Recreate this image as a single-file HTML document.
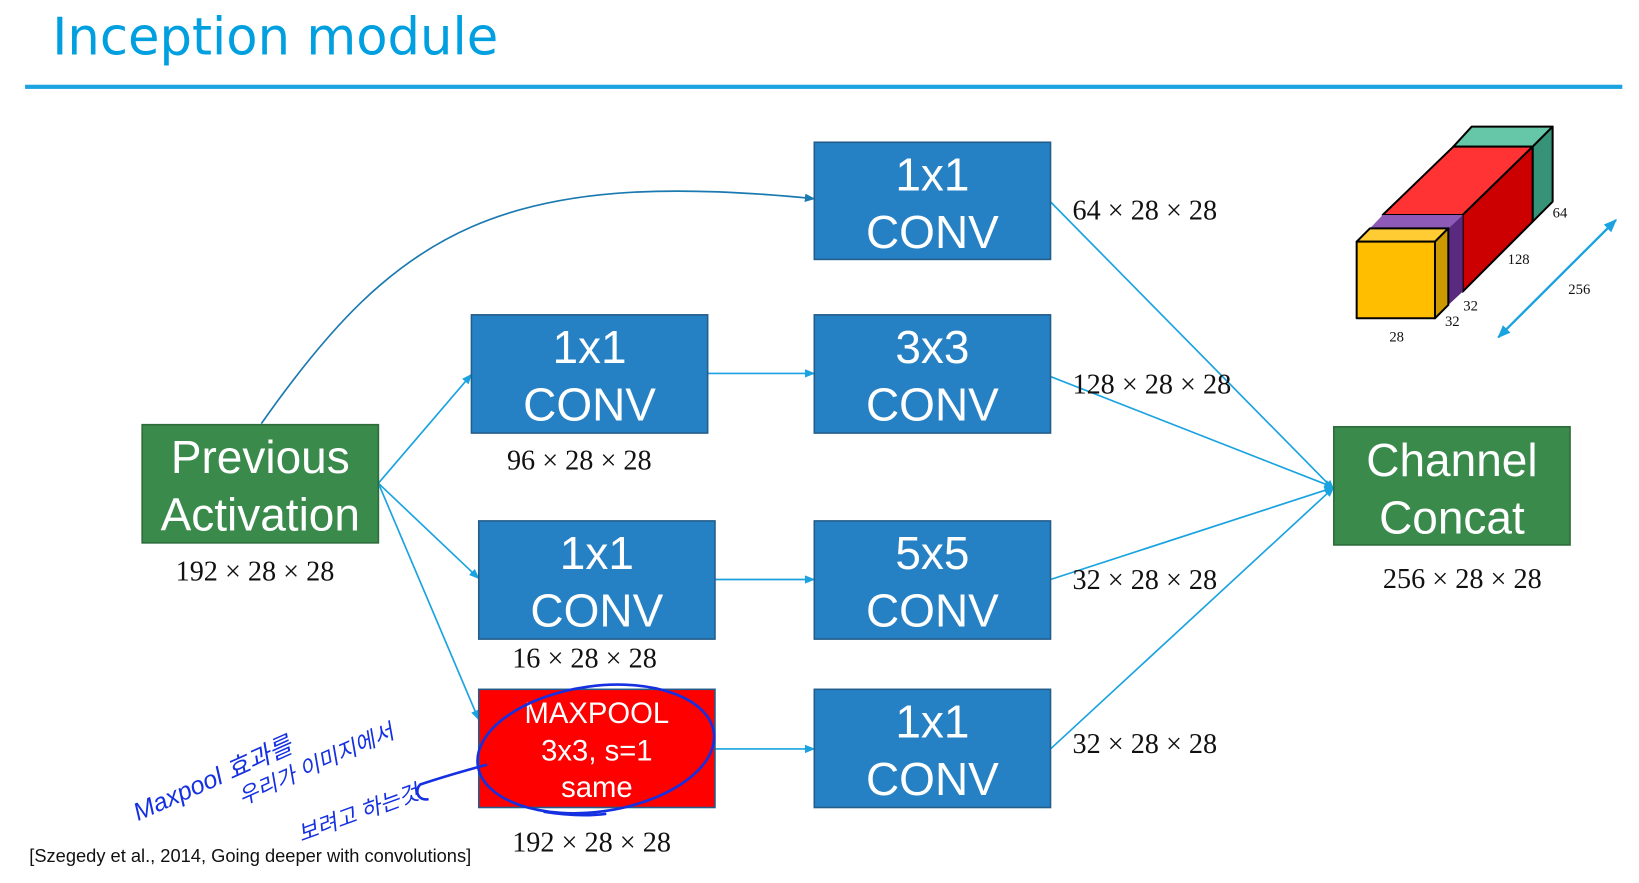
<!DOCTYPE html>
<html><head><meta charset="utf-8"><style>
html,body{margin:0;padding:0;background:#fff;}
svg{display:block;}
.bx{font-family:"Liberation Sans",sans-serif;fill:#fff;font-size:44px;text-anchor:middle;}
.lb{font-family:"Liberation Serif",serif;font-size:27px;fill:#111;}
</style></head><body>
<svg width="1639" height="883" viewBox="0 0 1639 883" xmlns="http://www.w3.org/2000/svg">
<defs>
<marker id="a" markerWidth="10" markerHeight="10" refX="9" refY="5" orient="auto" markerUnits="userSpaceOnUse"><path d="M0,1 L10,5 L0,9 Z" fill="#1aa3e0"/></marker>
<marker id="a2" markerWidth="10" markerHeight="10" refX="9" refY="5" orient="auto" markerUnits="userSpaceOnUse"><path d="M0,1 L10,5 L0,9 Z" fill="#1a7ab0"/></marker>
<marker id="a3" markerWidth="40" markerHeight="40" refX="36" refY="20" orient="auto-start-reverse" markerUnits="userSpaceOnUse"><path d="M0,4 L40,20 L0,36 Z" fill="#1aa3e0"/></marker>
</defs>
<g transform="scale(1.0453,1.046)">
<text x="50" y="52" font-family="DejaVu Sans,sans-serif" font-size="49" fill="#00a0e0">Inception module</text>
<rect x="24" y="81" width="1528" height="4" fill="#1aa3e0"/>

<g stroke="#1aa3e0" stroke-width="1.6" fill="none">
<path d="M250,405 C380,220 480,160 779,190" stroke="#1a7ab0" marker-end="url(#a2)"/>
<line x1="362" y1="462" x2="451" y2="358" marker-end="url(#a)"/>
<line x1="362" y1="462" x2="458" y2="553" marker-end="url(#a)"/>
<line x1="362" y1="462" x2="458" y2="688" marker-end="url(#a)"/>
<line x1="677" y1="357" x2="779" y2="357" marker-end="url(#a)"/>
<line x1="684" y1="554" x2="779" y2="554" marker-end="url(#a)"/>
<line x1="684" y1="716" x2="779" y2="716" marker-end="url(#a)"/>
<line x1="1005" y1="193" x2="1276" y2="468" marker-end="url(#a)"/>
<line x1="1005" y1="360" x2="1276" y2="466" marker-end="url(#a)"/>
<line x1="1005" y1="554" x2="1276" y2="466" marker-end="url(#a)"/>
<line x1="1005" y1="716" x2="1276" y2="466" marker-end="url(#a)"/>
</g>

<g stroke="#245d8a" stroke-width="1.5">
<rect x="136" y="406" width="226" height="113" fill="#3a8a4c" stroke="#2d6b3b"/>
<rect x="779" y="136" width="226" height="112" fill="#2581c4"/>
<rect x="451" y="301" width="226" height="113" fill="#2581c4"/>
<rect x="779" y="301" width="226" height="113" fill="#2581c4"/>
<rect x="458" y="498" width="226" height="113" fill="#2581c4"/>
<rect x="779" y="498" width="226" height="113" fill="#2581c4"/>
<rect x="458" y="659" width="226" height="113" fill="#fe0000"/>
<rect x="779" y="659" width="226" height="113" fill="#2581c4"/>
<rect x="1276" y="408" width="226" height="113" fill="#3a8a4c" stroke="#2d6b3b"/>
</g>
<text class="bx" x="249" y="452">Previous</text><text class="bx" x="249" y="507">Activation</text>
<text class="bx" x="892" y="182">1x1</text><text class="bx" x="892" y="237">CONV</text>
<text class="bx" x="564" y="347">1x1</text><text class="bx" x="564" y="402">CONV</text>
<text class="bx" x="892" y="347">3x3</text><text class="bx" x="892" y="402">CONV</text>
<text class="bx" x="571" y="544">1x1</text><text class="bx" x="571" y="599">CONV</text>
<text class="bx" x="892" y="544">5x5</text><text class="bx" x="892" y="599">CONV</text>
<text class="bx" x="892" y="705">1x1</text><text class="bx" x="892" y="760">CONV</text>
<text class="bx" x="1389" y="455">Channel</text><text class="bx" x="1389" y="510">Concat</text>
<text class="bx" style="font-size:28px" x="571" y="691">MAXPOOL</text>
<text class="bx" style="font-size:28px" x="571" y="727">3x3, s=1</text>
<text class="bx" style="font-size:28px" x="571" y="762">same</text>

<text class="lb" x="1026" y="210">64 × 28 × 28</text>
<text class="lb" x="1026" y="376">128 × 28 × 28</text>
<text class="lb" x="485" y="449">96 × 28 × 28</text>
<text class="lb" x="168" y="555">192 × 28 × 28</text>
<text class="lb" x="490" y="638">16 × 28 × 28</text>
<text class="lb" x="1026" y="563">32 × 28 × 28</text>
<text class="lb" x="1026" y="720">32 × 28 × 28</text>
<text class="lb" x="490" y="814">192 × 28 × 28</text>
<text class="lb" x="1323" y="562">256 × 28 × 28</text>
<text x="28" y="824" font-family="Liberation Sans,sans-serif" font-size="17.5" fill="#111">[Szegedy et al., 2014, Going deeper with convolutions]</text>

<!-- handwriting -->
<g stroke="#1530e0" stroke-width="2.5" fill="none">
<ellipse cx="570" cy="716" rx="114" ry="60" transform="rotate(-8 570 716)"/>
<path d="M466,731 C440,738 420,744 402,750 C396,756 400,766 410,764"/>
<path d="M520,776 C545,780 565,780 580,778"/>
</g>
<g font-family="Liberation Sans,'Noto Sans CJK KR',sans-serif" fill="#1530e0" font-style="italic">
<text x="132" y="785" font-size="24" transform="rotate(-24 132 785)">Maxpool 효과를</text>
<text x="232" y="770" font-size="21" transform="rotate(-24 232 770)">우리가 이미지에서</text>
<text x="288" y="805" font-size="21" transform="rotate(-20 288 805)">보려고 하는것</text>
</g>
</g>

<!-- cube in actual coords -->
<g transform="translate(1250,100) scale(0.3333)" stroke="#000" stroke-width="6" stroke-linejoin="round">
<polygon points="610,140 665,80 908,80 848,140" fill="#66c6a8"/>
<polygon points="848,140 908,80 908,305 848,365" fill="#369377"/>
<polygon points="398,345 610,140 848,140 638,345" fill="#ff3333"/>
<polygon points="638,345 848,140 848,365 638,575" fill="#cc0000"/>
<polygon points="360,385 398,345 638,345 595,385" fill="#8e5ab8" stroke="none"/>
<polygon points="595,385 638,345 638,575 595,615" fill="#5a2a80" stroke="none"/>
<polygon points="320,425 360,385 595,385 555,425" fill="#ffcc33"/>
<polygon points="555,425 595,385 595,615 555,655" fill="#cc9900"/>
<rect x="320" y="425" width="235" height="230" fill="#ffbf00"/>
<line x1="745" y1="712" x2="1098" y2="360" stroke="#1aa3e0" stroke-width="7" marker-start="url(#a3)" marker-end="url(#a3)"/>
<g stroke="none" font-family="Liberation Serif,serif" font-size="44" fill="#111">
<text x="908" y="352">64</text><text x="773" y="492">128</text><text x="640" y="632">32</text>
<text x="585" y="678">32</text><text x="418" y="725">28</text><text x="955" y="582">256</text>
</g>
</g>
</svg>
</body></html>
